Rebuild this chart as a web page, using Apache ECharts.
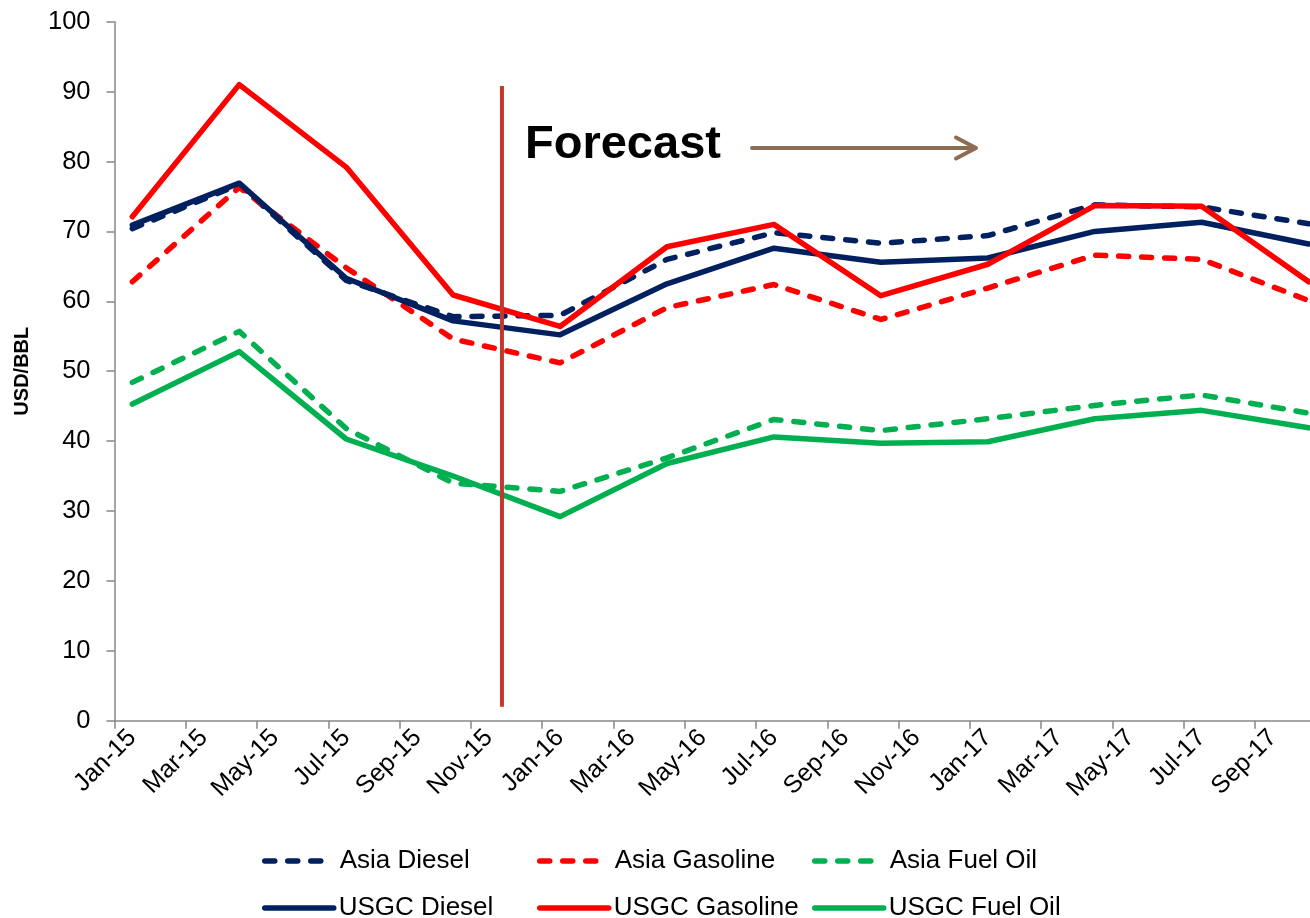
<!DOCTYPE html>
<html>
<head>
<meta charset="utf-8">
<script src="https://cdn.jsdelivr.net/npm/echarts@6/dist/echarts.min.js"></script>
<style>
  html, body { margin: 0; padding: 0; background: #fff; }
  #chart { width: 1310px; height: 918px; }
</style>
</head>
<body>
<div id="chart"></div>
<script>
const FONT = 'Liberation Sans, Arial, sans-serif';

const months = [
  'Jan-15', 'Feb-15', 'Mar-15', 'Apr-15', 'May-15', 'Jun-15', 'Jul-15', 'Aug-15', 'Sep-15', 'Oct-15', 'Nov-15', 'Dec-15',
  'Jan-16', 'Feb-16', 'Mar-16', 'Apr-16', 'May-16', 'Jun-16', 'Jul-16', 'Aug-16', 'Sep-16', 'Oct-16', 'Nov-16', 'Dec-16',
  'Jan-17', 'Feb-17', 'Mar-17', 'Apr-17', 'May-17', 'Jun-17', 'Jul-17', 'Aug-17', 'Sep-17', 'Oct-17'
];
const quarters = ['Jan-15', 'Apr-15', 'Jul-15', 'Oct-15', 'Jan-16', 'Apr-16', 'Jul-16', 'Oct-16', 'Jan-17', 'Apr-17', 'Jul-17', 'Oct-17'];

const asiaDiesel   = [70.4, 76.7, 63.0, 57.8, 58.0, 66.0, 69.8, 68.3, 69.4, 73.8, 73.5, 71.1];
const usgcDiesel   = [70.9, 76.9, 63.3, 57.2, 55.2, 62.5, 67.6, 65.6, 66.2, 70.0, 71.3, 68.2];
const asiaGasoline = [62.8, 76.3, 64.8, 54.6, 51.2, 59.1, 62.4, 57.4, 61.9, 66.6, 66.0, 60.1];
const usgcGasoline = [72.1, 91.0, 79.2, 60.9, 56.4, 67.8, 71.0, 60.8, 65.3, 73.7, 73.6, 62.8];
const asiaFuelOil  = [48.4, 55.7, 41.8, 34.0, 32.8, 37.6, 43.1, 41.5, 43.2, 45.1, 46.6, 44.0];
const usgcFuelOil  = [45.3, 52.8, 40.3, 35.0, 29.2, 36.8, 40.6, 39.7, 39.9, 43.2, 44.4, 41.9];

// forecast divider, in month units from the axis start, and its y span
const forecastAt = 10.87;
const forecastSpan = [2, 90.8];

const NAVY = '#002060', RED = '#FF0000', GREEN = '#00B050';
const DASH = [10, 13];
const LW = 5.5;

function mk(name, values, color, dashed) {
  return {
    name, type: 'line', symbol: 'none', silent: true,
    data: quarters.map((q, i) => [q, values[i]]),
    lineStyle: { color, width: LW, type: dashed ? DASH : 'solid', cap: 'round', join: 'round' },
    itemStyle: { color },
    z: dashed ? 2 : 3
  };
}

const series = [
  mk('Asia Diesel', asiaDiesel, NAVY, true),
  mk('Asia Gasoline', asiaGasoline, RED, true),
  mk('Asia Fuel Oil', asiaFuelOil, GREEN, true),
  mk('USGC Diesel', usgcDiesel, NAVY, false),
  mk('USGC Gasoline', usgcGasoline, RED, false),
  mk('USGC Fuel Oil', usgcFuelOil, GREEN, false),
  {
    name: 'forecast', type: 'line', symbol: 'none', silent: true,
    xAxisIndex: 1,
    data: [[forecastAt, forecastSpan[0]], [forecastAt, forecastSpan[1]]],
    lineStyle: { color: '#C0392B', width: 4 },
    z: 4
  }
];

// one legend per entry so the 2x3 grid lines up like the original
const legendCols = [262, 537, 812];
const legendRows = [848, 895];
const legends = series.slice(0, 6).map((s, i) => {
  const row = i < 3 ? 0 : 1;
  return {
    data: [s.name],
    left: legendCols[i % 3],
    top: legendRows[row],
    padding: 0,
    itemWidth: row === 0 ? 64 : 69,
    itemHeight: 26,
    selectedMode: false,
    itemStyle: { opacity: 0 },
    lineStyle: { width: LW },
    textStyle: {
      fontFamily: FONT, fontSize: 26, color: '#000',
      padding: row === 0 ? [0, 0, 0, 6] : 0
    }
  };
});

const chart = echarts.init(document.getElementById('chart'));
chart.setOption({
  animation: false,
  backgroundColor: '#fff',
  grid: { left: 114.5, right: -16.4, top: 21.7, bottom: 197.3, outerBoundsMode: 'none', containLabel: false },
  legend: legends,
  xAxis: [{
    type: 'category',
    data: months,
    boundaryGap: true,
    axisLine: { lineStyle: { color: '#868686', width: 1.5 } },
    axisTick: { show: true, interval: 1, length: 8, lineStyle: { color: '#868686', width: 1.5 } },
    axisLabel: { interval: 1, rotate: 45, margin: 13, fontFamily: FONT, fontSize: 25, color: '#000' },
    splitLine: { show: false }
  }, {
    type: 'value', min: 0, max: months.length, show: false
  }],
  yAxis: {
    type: 'value', min: 0, max: 100, interval: 10,
    name: 'USD/BBL',
    nameLocation: 'middle',
    nameGap: 82,
    nameRotate: 90,
    nameTextStyle: { fontFamily: FONT, fontSize: 20, fontWeight: 'bold', color: '#000' },
    axisLine: { show: true, lineStyle: { color: '#868686', width: 1.5 } },
    axisTick: { show: true, length: 8, lineStyle: { color: '#868686', width: 1.5 } },
    axisLabel: { margin: 24, fontFamily: FONT, fontSize: 25.5, color: '#000' },
    splitLine: { show: false }
  },
  graphic: [
    {
      type: 'text', left: 525, top: 122,
      style: { text: 'Forecast', font: 'bold 47px ' + FONT, fill: '#000' }
    },
    {
      type: 'polyline',
      shape: { points: [[752, 148], [975, 148]] },
      style: { stroke: '#8C6D53', lineWidth: 4, lineCap: 'round' }
    },
    {
      type: 'polyline',
      shape: { points: [[956, 137.5], [976, 148], [956, 158.5]] },
      style: { stroke: '#8C6D53', lineWidth: 4, lineCap: 'round', lineJoin: 'round', fill: null }
    }
  ],
  series
});
</script>
</body>
</html>
